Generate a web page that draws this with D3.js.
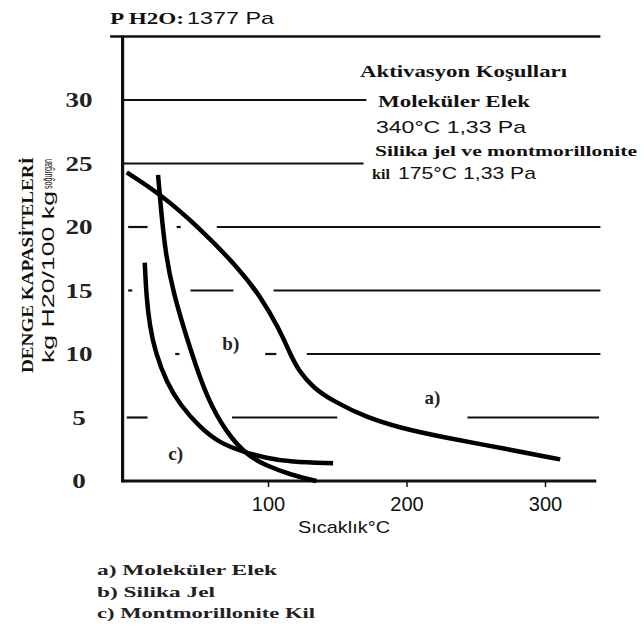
<!DOCTYPE html>
<html>
<head>
<meta charset="utf-8">
<script src="https://cdn.jsdelivr.net/npm/d3@7"></script>
<style>
  body { margin: 0; background: #fff; }
  svg { display: block; }
</style>
</head>
<body>
<svg id="chart"></svg>
<script>
// curve a) Moleküler Elek  [sıcaklık °C, kg H2O / 100 kg]
var molekulerElek = [
  [-2, 24.3], [21, 22.7], [51, 19.9], [80, 16.6], [94, 14.6], [108, 12.0],
  [116, 10.0], [122, 8.7], [133, 7.3], [147, 6.3], [171, 5.0], [195, 4.2],
  [224, 3.5], [273, 2.5], [311, 1.7]
];
// curve b) Silika Jel
var silikaJel = [
  [20.6, 24.1], [23, 21.0], [26, 18.0], [31, 15.0], [44, 10.3], [56, 6.5], [70, 3.8],
  [85, 2.0], [99, 1.2], [116, 0.5], [135, 0.0]
];
// curve c) Montmorillonite Kil
var montmorillonite = [
  [11, 17.2], [12.2, 14.5], [14.5, 12.3], [18.4, 10.2], [27, 7.7], [36.5, 6.0],
  [51, 4.2], [65, 3.0], [82, 2.3], [99, 1.8], [116, 1.5], [147, 1.4]
];

var xTicks = [100, 200, 300];
var yTicks = [0, 5, 10, 15, 20, 25, 30];

// broken horizontal reference lines of the scanned figure
var gridLevels = [35, 30, 25, 20, 20, 20, 15, 15, 15, 10, 10, 10, 5, 5, 5];
var gridFrom   = [-14, -5, -5, -1, 34, 63, -1, 44, 104, 33, 98, 128, -2, 74, 244];
var gridTo     = [340, 171, 169, 13, 37, 340, 2, 75, 340, 36, 106, 340, 13, 150, 339];

var curves = [
  { name: "a", pts: molekulerElek },
  { name: "b", pts: silikaJel },
  { name: "c", pts: montmorillonite }
];

var width = 644, height = 630;
var svg = d3.select("#chart").attr("width", width).attr("height", height);

var x = d3.scaleLinear().domain([-5, 340]).range([122.6, 600.4]);
var y = d3.scaleLinear().domain([0, 35]).range([481, 36.5]);

var serif = "'Liberation Serif', 'DejaVu Serif', serif";
var sans = "'Liberation Sans', Arial, sans-serif";

// grid pieces
svg.append("g").selectAll("line")
  .data(gridLevels)
  .enter().append("line")
  .attr("x1", function(d, i) { return x(gridFrom[i]); })
  .attr("x2", function(d, i) { return x(gridTo[i]); })
  .attr("y1", function(d) { return y(d); })
  .attr("y2", function(d) { return y(d); })
  .attr("stroke", "#111")
  .attr("stroke-width", function(d) { return d == 35 ? 2.5 : 2.2; });

// axes
var xAxis = d3.axisBottom(x).tickValues(xTicks).tickSize(6).tickFormat(d3.format("d"));
var gx = svg.append("g").attr("transform", "translate(0," + y(0) + ")").call(xAxis);
gx.select(".domain").remove();
gx.selectAll(".tick line").attr("stroke", "#111").attr("stroke-width", 1.5);
gx.selectAll(".tick text")
  .attr("y", 16)
  .attr("dy", "0.71em")
  .style("font-family", sans)
  .style("font-size", "20px")
  .attr("fill", "#111");

svg.append("line")
  .attr("x1", x(-5)).attr("x2", x(337))
  .attr("y1", y(0)).attr("y2", y(0))
  .attr("stroke", "#111").attr("stroke-width", 3);
svg.append("line")
  .attr("x1", x(-5)).attr("x2", x(-5))
  .attr("y1", y(35) - 1).attr("y2", y(0) + 1.5)
  .attr("stroke", "#111").attr("stroke-width", 3.2);

// y tick labels
svg.append("g").selectAll("text")
  .data(yTicks)
  .enter().append("text")
  .attr("x", 79)
  .attr("y", function(d) { return y(d); })
  .attr("dy", "0.35em")
  .attr("text-anchor", "middle")
  .style("font-family", serif)
  .style("font-weight", "bold")
  .style("font-size", "21px")
  .attr("fill", "#222")
  .attr("textLength", function(d) { return String(d).length * 13.5; })
  .attr("lengthAdjust", "spacingAndGlyphs")
  .text(function(d) { return d; });

// curves
var line = d3.line()
  .x(function(d) { return x(d[0]); })
  .y(function(d) { return y(d[1]); })
  .curve(d3.curveBasis);

svg.append("g").selectAll("path")
  .data(curves)
  .enter().append("path")
  .attr("d", function(d) { return line(d.pts); })
  .attr("fill", "none")
  .attr("stroke", "#000")
  .attr("stroke-width", 4.5);

// curve labels
var curveLabels = [
  { t: "a)", x: 213, y: 6.6 },
  { t: "b)", x: 67, y: 10.8 },
  { t: "c)", x: 28, y: 2.2 }
];
svg.append("g").selectAll("text")
  .data(curveLabels)
  .enter().append("text")
  .attr("x", function(d) { return x(d.x); })
  .attr("y", function(d) { return y(d.y); })
  .attr("dy", "0.35em")
  .style("font-family", serif)
  .style("font-weight", "bold")
  .style("font-size", "19px")
  .attr("fill", "#222")
  .text(function(d) { return d.t; });

// header and activation notes
function note(txt, px, py, font, size, bold, len) {
  var t = svg.append("text")
    .attr("x", px).attr("y", py)
    .style("font-family", font)
    .style("font-size", size + "px")
    .style("font-weight", bold ? "bold" : "normal")
    .attr("fill", "#111")
    .text(txt);
  if (len) t.attr("textLength", len).attr("lengthAdjust", "spacingAndGlyphs");
  return t;
}
note("P H2O:", 110, 24, serif, 16, true, 74);
note("1377  Pa", 187, 24, sans, 17, false, 87);

note("Aktivasyon Koşulları", 360, 77, serif, 16, true, 207);
note("Moleküler Elek", 378, 107, serif, 16, true, 152);
note("340°C 1,33  Pa", 376, 133, sans, 17, false, 150);
note("Silika jel ve montmorillonite", 375, 156, serif, 15, true, 262);
note("kil", 372, 179, serif, 15, true, 18);
note("175°C 1,33  Pa", 398, 179, sans, 17, false, 138);

// axis titles
note("Sıcaklık°C", 298, 533, sans, 17, false, 92);

svg.append("text")
  .attr("transform", "translate(33,373) rotate(-90)")
  .style("font-family", serif).style("font-weight", "bold").style("font-size", "17px")
  .attr("fill", "#111")
  .attr("textLength", 216).attr("lengthAdjust", "spacingAndGlyphs")
  .text("DENGE KAPASİTELERİ");
svg.append("text")
  .attr("transform", "translate(54,363) rotate(-90)")
  .style("font-family", sans).style("font-size", "16px")
  .attr("fill", "#111")
  .attr("textLength", 172).attr("lengthAdjust", "spacingAndGlyphs")
  .text("kg H20/100 kg");
svg.append("text")
  .attr("transform", "translate(52,189) rotate(-90)")
  .style("font-family", sans).style("font-size", "12px")
  .attr("fill", "#111")
  .attr("textLength", 30).attr("lengthAdjust", "spacingAndGlyphs")
  .text("soğurgan");

// legend
var legendRows = ["a) Moleküler Elek", "b) Silika Jel", "c) Montmorillonite Kil"];
var legendLen = [180, 118, 218];
svg.append("g").selectAll("text")
  .data(legendRows)
  .enter().append("text")
  .attr("x", 97)
  .attr("y", function(d, i) { return 575 + i * 21.5; })
  .style("font-family", serif).style("font-weight", "bold").style("font-size", "15px")
  .attr("fill", "#222")
  .attr("textLength", function(d, i) { return legendLen[i]; })
  .attr("lengthAdjust", "spacingAndGlyphs")
  .text(function(d) { return d; });
</script>
</body>
</html>
